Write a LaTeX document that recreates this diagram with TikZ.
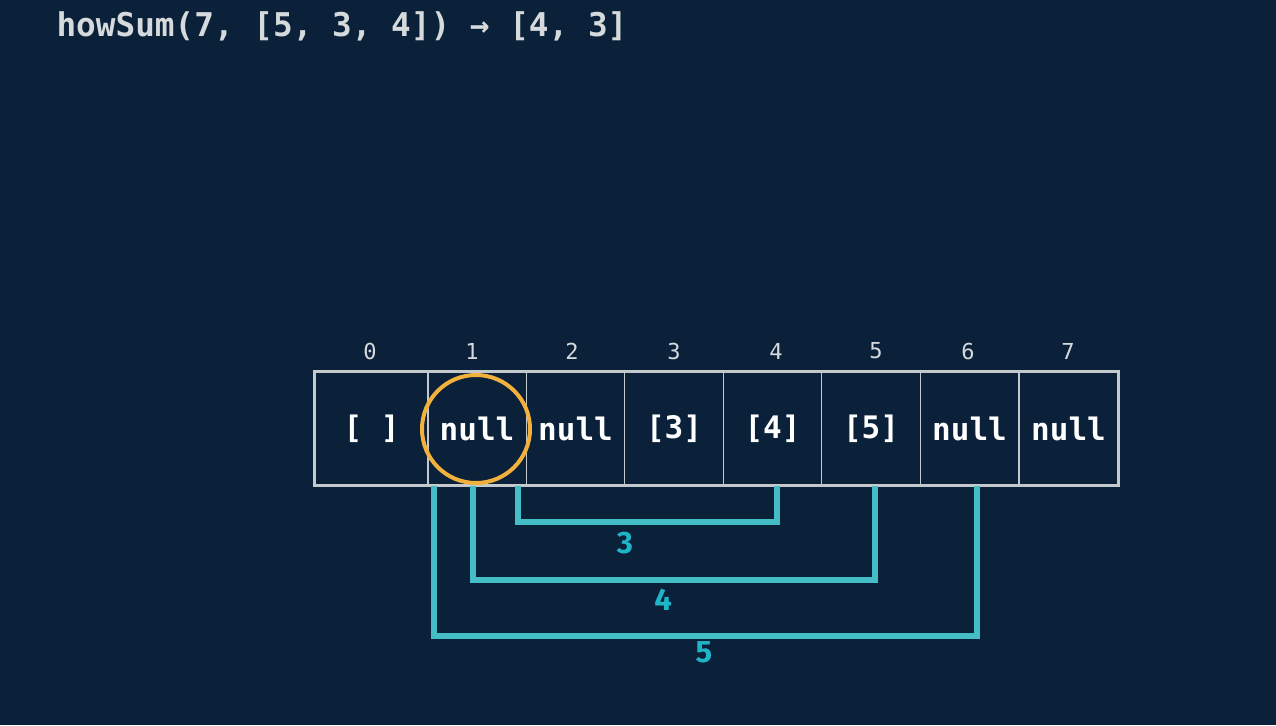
\documentclass[tikz,border=0pt]{standalone}
\usepackage{fontspec}
\setmainfont{DejaVu Sans}
\newfontfamily\codefont{DejaVu Sans Mono}
\newfontfamily\labfont{Fira Sans}
\definecolor{bg}{HTML}{0A2139}
\definecolor{titlec}{HTML}{D6DADD}
\definecolor{gridc}{HTML}{C4C9CE}
\definecolor{teal}{HTML}{45BDC6}
\definecolor{tealtxt}{HTML}{1FB4C6}
\definecolor{orangec}{HTML}{F2B03C}
\begin{document}
\begin{tikzpicture}[x=1pt,y=-1pt,
  cell/.style={draw=gridc,line width=1.2pt,minimum height=113pt,inner sep=0pt,
    text=white,font=\codefont\bfseries\fontsize{31}{33}\selectfont},
  idx/.style={text=titlec,font=\codefont\fontsize{22}{24}\selectfont},
  br/.style={draw=teal,line width=5.5pt,line join=miter},
  brlab/.style={text=tealtxt,font=\labfont\bfseries\fontsize{31}{32}\selectfont}]
\fill[bg] (0,0) rectangle (1276,725);
\useasboundingbox (0,0) rectangle (1276,725);
\node[anchor=west,text=titlec,font=\codefont\bfseries\fontsize{32.7}{34}\selectfont] (title) at (53,26) {howSum(7, [5, 3, 4]) → [4, 3]};
% cells
\node[cell,minimum width=113pt] (c0) at (371.5,428.5) {[ ]};
\node[cell,minimum width=98.5pt] (c1) at (477,428.5) {null};
\node[cell,minimum width=98.5pt] (c2) at (575.5,428.5) {null};
\node[cell,minimum width=98.5pt] (c3) at (674,428.5) {[3]};
\node[cell,minimum width=98.5pt] (c4) at (772.5,428.5) {[4]};
\node[cell,minimum width=98.5pt] (c5) at (871,428.5) {[5]};
\node[cell,minimum width=98.5pt] (c6) at (969.5,428.5) {null};
\node[cell,minimum width=98.5pt] (c7) at (1068.5,428.5) {null};
\draw[gridc,line width=2.4pt] (c0.north west) rectangle (c7.south east);
% indices
\node[idx] (i0) at (370,351) {0};
\node[idx] (i1) at (472,351) {1};
\node[idx] (i2) at (572,351) {2};
\node[idx] (i3) at (674,351) {3};
\node[idx] (i4) at (776,351) {4};
\node[idx] (i5) at (876,351) {5};
\node[idx] (i6) at (968,351) {6};
\node[idx] (i7) at (1068,351) {7};
% circle
\node[draw=orangec,line width=4pt,circle,minimum size=108pt] (circ) at (476,429) {};
% brackets
\coordinate (b3l) at (518,486);
\coordinate (b3r) at (777,486);
\coordinate (b4l) at (473,486);
\coordinate (b4r) at (875,486);
\coordinate (b5l) at (434,486);
\coordinate (b5r) at (977,486);
\draw[br] (b3l) -- ++(0,36) -| (b3r);
\draw[br] (b4l) -- ++(0,94) -| (b4r);
\draw[br] (b5l) -- ++(0,150) -| (b5r);
\node[brlab] (l3) at (625,543) {3};
\node[brlab] (l4) at (663,600) {4};
\node[brlab] (l5) at (704,652) {5};
\end{tikzpicture}
\end{document}
